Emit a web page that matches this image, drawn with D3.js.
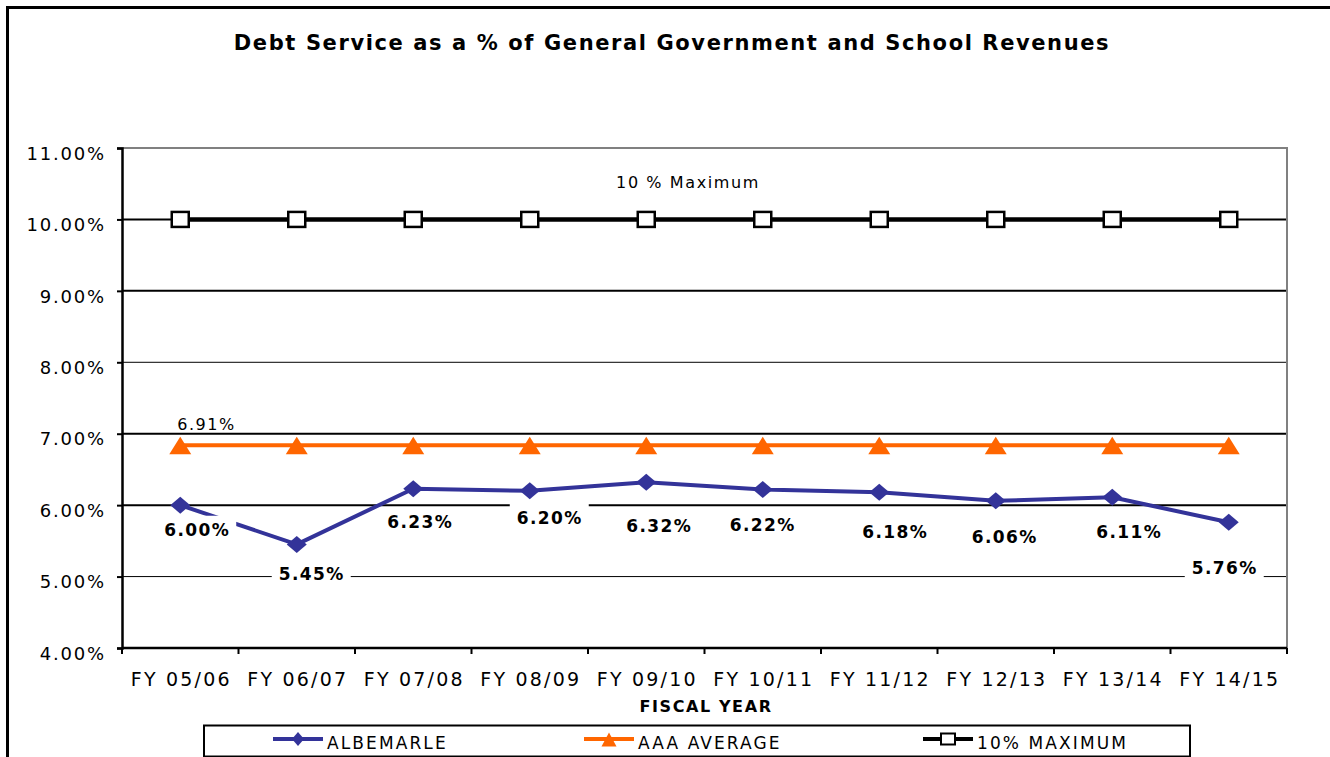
<!DOCTYPE html>
<html>
<head>
<meta charset="utf-8">
<script src="https://cdn.jsdelivr.net/npm/d3@7"></script>
<style>
  html, body { margin: 0; padding: 0; background: #fff; }
  svg { display: block; }
  text { font-family: "DejaVu Sans", Verdana, sans-serif; fill: #000; }
</style>
</head>
<body>
<svg id="chart" width="1330" height="757"></svg>
<script>
// ---- data ----
const categories = ["FY 05/06","FY 06/07","FY 07/08","FY 08/09","FY 09/10","FY 10/11","FY 11/12","FY 12/13","FY 13/14","FY 14/15"];
const albemarle = [6.00, 5.45, 6.23, 6.20, 6.32, 6.22, 6.18, 6.06, 6.11, 5.76];
const aaaAverage = [6.84, 6.84, 6.84, 6.84, 6.84, 6.84, 6.84, 6.84, 6.84, 6.84];
const tenMaximum = [10, 10, 10, 10, 10, 10, 10, 10, 10, 10];
const yTicks = [4, 5, 6, 7, 8, 9, 10, 11];
const seriesNames = ["ALBEMARLE", "AAA AVERAGE", "10% MAXIMUM"];
const aaaLabelText = "6.91%";
const maxLabelText = "10 % Maximum";
const titleText = "Debt Service as a % of General Government and School Revenues";
const xTitleText = "FISCAL YEAR";
// label placement offsets (layout, px) relative to each ALBEMARLE point
const labelOffsets = [[17,31],[15,36],[7,39],[20,33],[13,50],[0,42],[16,46],[9,42],[17,41],[-4,52]];

const BLUE = "#333399", ORANGE = "#FF6600";

const svg = d3.select("#chart");
const L = 122, R = 1287, T = 148, B = 648;

const x = d3.scaleBand().domain(categories).range([L, R]).padding(0);
const cx = c => x(c) + x.bandwidth() / 2;
const y = d3.scaleLinear().domain([4, 11]).range([B, T]);

// outer border (extends beyond frame on right/bottom)
svg.append("rect").attr("x", 7.5).attr("y", 7.5).attr("width", 1400).attr("height", 800)
  .attr("fill", "none").attr("stroke", "#000").attr("stroke-width", 3);

// title
svg.append("text").attr("x", 672).attr("y", 50).attr("text-anchor", "middle")
  .attr("font-size", 21).attr("font-weight", "bold").style("letter-spacing", "1.6px").text(titleText);

// gridlines
const thick = new Set([6, 7, 9, 10]);
svg.append("g").selectAll("line").data(yTicks.filter(v => v > 4 && v < 11)).join("line")
  .attr("x1", L).attr("x2", R).attr("y1", d => y(d)).attr("y2", d => y(d))
  .attr("stroke", "#000").attr("stroke-width", d => thick.has(d) ? 2 : 1);

// plot border top/right (gray)
svg.append("path").attr("d", `M${L},${y(11)}H${R}V${B}`).attr("fill", "none")
  .attr("stroke", "#808080").attr("stroke-width", 2);

// y axis
const yAxis = d3.axisLeft(y).tickValues(yTicks).tickSize(5).tickFormat(d => d3.format(".2f")(d) + "%");
const gy = svg.append("g").attr("transform", `translate(${L},0)`).call(yAxis);
gy.select(".domain").attr("stroke", "#000").attr("stroke-width", 2.5);
gy.selectAll(".tick line").attr("stroke", "#000").attr("stroke-width", 2);
gy.selectAll(".tick text").attr("font-size", 18).attr("x", -16).attr("dy", "0.62em")
  .style("letter-spacing", "1.8px").attr("fill", "#000");

// x axis (ticks at category boundaries)
const gx = svg.append("g").attr("transform", `translate(0,${B})`);
gx.append("line").attr("x1", L).attr("x2", R).attr("y1", 0).attr("y2", 0).attr("stroke", "#000").attr("stroke-width", 2.5);
const bounds = categories.map(c => x(c)).concat([R]);
gx.selectAll("line.t").data(bounds).join("line").attr("class", "t")
  .attr("x1", d => d).attr("x2", d => d).attr("y1", 0).attr("y2", 6).attr("stroke", "#000").attr("stroke-width", 2);
gx.selectAll("text").data(categories).join("text")
  .attr("x", d => cx(d) + 1).attr("y", 38).attr("text-anchor", "middle")
  .attr("font-size", 19).style("letter-spacing", "2.2px").text(d => d);

// x title
svg.append("text").attr("x", 706).attr("y", 712).attr("text-anchor", "middle")
  .attr("font-size", 16).attr("font-weight", "bold").style("letter-spacing", "1.6px").text(xTitleText);

// lines
const line = d3.line().x((d, i) => cx(categories[i])).y(d => y(d));

// 10% maximum
svg.append("path").datum(tenMaximum).attr("d", line).attr("fill", "none")
  .attr("stroke", "#000").attr("stroke-width", 4.5);
svg.append("g").selectAll("rect").data(tenMaximum).join("rect")
  .attr("x", (d, i) => cx(categories[i]) - 8.5).attr("y", d => y(d) - 7.5)
  .attr("width", 17).attr("height", 15).attr("fill", "#fff").attr("stroke", "#000").attr("stroke-width", 2.5);

// AAA average
svg.append("path").datum(aaaAverage).attr("d", line).attr("fill", "none")
  .attr("stroke", ORANGE).attr("stroke-width", 4);
svg.append("g").selectAll("path").data(aaaAverage).join("path")
  .attr("d", (d, i) => { const px = cx(categories[i]), py = y(d); return `M${px},${py-8.5}L${px+11},${py+9}L${px-11},${py+9}Z`; })
  .attr("fill", ORANGE);

// Albemarle
svg.append("path").datum(albemarle).attr("d", line).attr("fill", "none")
  .attr("stroke", BLUE).attr("stroke-width", 4).attr("stroke-linejoin", "round");
svg.append("g").selectAll("path").data(albemarle).join("path")
  .attr("d", (d, i) => { const px = cx(categories[i]), py = y(d); return `M${px},${py-8.5}L${px+10},${py}L${px},${py+8.5}L${px-10},${py}Z`; })
  .attr("fill", BLUE);

// Albemarle data labels with white boxes
const lg = svg.append("g");
albemarle.forEach((v, i) => {
  const px = cx(categories[i]) + labelOffsets[i][0];
  const py = y(v) + labelOffsets[i][1];
  const g = lg.append("g");
  const rect = g.append("rect").attr("fill", "#fff");
  const t = g.append("text").attr("x", px).attr("y", py).attr("text-anchor", "middle")
    .attr("font-size", 17).attr("font-weight", "bold").style("letter-spacing", "1.4px")
    .text(d3.format(".2f")(v) + "%");
  const w = t.node().getComputedTextLength();
  rect.attr("x", px - w / 2 - 7).attr("width", w + 13).attr("y", py - 12.4 - 8).attr("height", 12.4 + 8 + 6);
});

// AAA label & 10% label
svg.append("text").attr("x", cx(categories[0]) - 3).attr("y", y(aaaAverage[0]) - 15)
  .attr("font-size", 16).style("letter-spacing", "1.5px").text(aaaLabelText);
svg.append("text").attr("x", 688).attr("y", 188).attr("text-anchor", "middle")
  .attr("font-size", 16).style("letter-spacing", "1.6px").text(maxLabelText);

// legend
const legY = 739;
svg.append("rect").attr("x", 204).attr("y", 725.5).attr("width", 986).attr("height", 31)
  .attr("fill", "#fff").attr("stroke", "#000").attr("stroke-width", 2);
const legItems = [
  { name: seriesNames[0], x0: 273, color: BLUE, mark: "diamond" },
  { name: seriesNames[1], x0: 584, color: ORANGE, mark: "triangle" },
  { name: seriesNames[2], x0: 923, color: "#000", mark: "square" }
];
legItems.forEach(it => {
  const g = svg.append("g");
  const mx = it.x0 + 25;
  g.append("line").attr("x1", it.x0).attr("x2", it.x0 + 50).attr("y1", legY).attr("y2", legY)
    .attr("stroke", it.color).attr("stroke-width", 4);
  if (it.mark === "diamond") {
    g.append("path").attr("d", `M${mx},${legY-7}L${mx+6},${legY}L${mx},${legY+7}L${mx-6},${legY}Z`).attr("fill", it.color);
  } else if (it.mark === "triangle") {
    g.append("path").attr("d", `M${mx},${legY-6.5}L${mx+7.5},${legY+7.5}L${mx-7.5},${legY+7.5}Z`).attr("fill", it.color);
  } else {
    g.append("rect").attr("x", mx - 7).attr("y", legY - 5.5).attr("width", 14).attr("height", 11)
      .attr("fill", "#fff").attr("stroke", "#000").attr("stroke-width", 2);
  }
  g.append("text").attr("x", it.x0 + 54).attr("y", 749).attr("font-size", 17)
    .style("letter-spacing", "2.1px").text(it.name);
});
</script>
</body>
</html>
